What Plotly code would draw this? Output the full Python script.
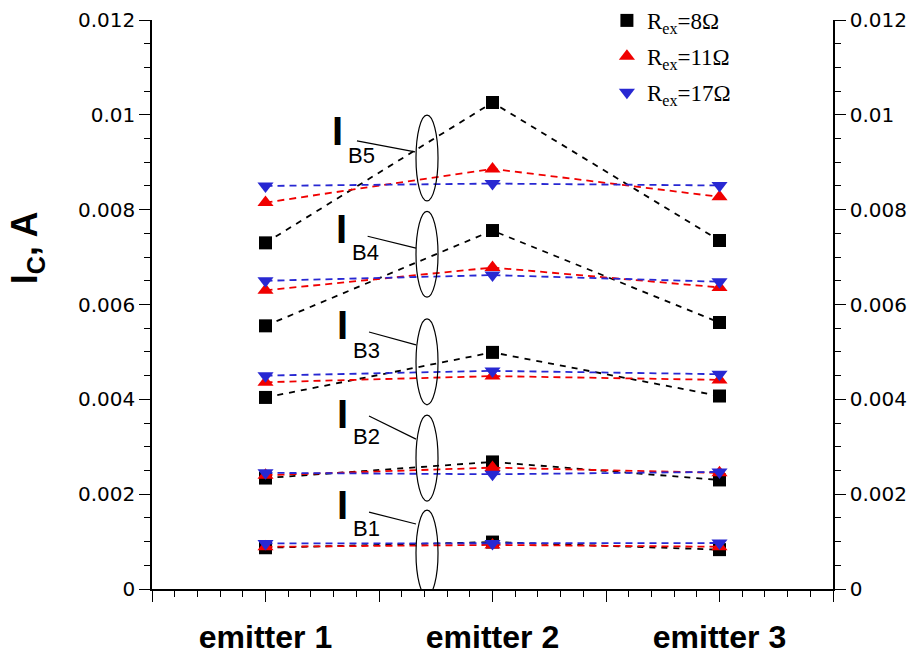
import plotly.graph_objects as go

# ---------------- data ----------------
emitters = [1, 2, 3]
emitter_labels = ["emitter 1", "emitter 2", "emitter 3"]
ib_levels = ["B5", "B4", "B3", "B2", "B1"]

# collector current I_C (A) for each base-current level, emitters 1..3
ic_r8 = [
    [0.00730, 0.01026, 0.00735],
    [0.00555, 0.00756, 0.00562],
    [0.00404, 0.00499, 0.00407],
    [0.00234, 0.00268, 0.00230],
    [0.00087, 0.00099, 0.00083],
]
ic_r11 = [
    [0.00815, 0.00886, 0.00827],
    [0.00630, 0.00678, 0.00636],
    [0.00436, 0.00449, 0.00441],
    [0.00240, 0.00256, 0.00245],
    [0.00089, 0.00093, 0.00089],
]
ic_r17 = [
    [0.00850, 0.00855, 0.00851],
    [0.00650, 0.00662, 0.00648],
    [0.00450, 0.00460, 0.00453],
    [0.00245, 0.00242, 0.00247],
    [0.00096, 0.00096, 0.00097],
]
series_names = ["R<sub>ex</sub>=8Ω", "R<sub>ex</sub>=11Ω", "R<sub>ex</sub>=17Ω"]

y_tickvals = [0, 0.002, 0.004, 0.006, 0.008, 0.01, 0.012]
y_ticktext = ["0", "0.002", "0.004", "0.006", "0.008", "0.01", "0.012"]

# ---------------- styles / positions ----------------
colors = ["black", "rgb(240,0,0)", "rgb(40,40,210)"]
symbols = ["square", "triangle-up", "triangle-down"]
msizes = [13, 14, 14]
dashes = ["6px,6px", "7px,5px", "7px,5px"]

# annotation positions (data coords) for the I_B labels
label_I_xy = [(1.319, 0.00966), (1.335, 0.00759), (1.341, 0.00557), (1.341, 0.00369), (1.341, 0.00177)]
label_sub_xy = [(1.425, 0.00915), (1.440, 0.00709), (1.447, 0.00504), (1.447, 0.00321), (1.447, 0.00127)]
leader = [((1.403, 0.00945), (1.659, 0.00922)),
          ((1.450, 0.00744), (1.663, 0.00719)),
          ((1.456, 0.00542), (1.663, 0.00515)),
          ((1.456, 0.00365), (1.663, 0.00316)),
          ((1.456, 0.00162), (1.663, 0.00137))]
ellipse_cy = [0.00909, 0.00706, 0.00479, 0.00276, 0.00076]
ellipse_x = (1.663, 1.760)
ellipse_h = 0.00181

fig = go.Figure()

for data, name, col, sym, ms, dsh, grp in zip([ic_r8, ic_r11, ic_r17], series_names, colors,
                                              symbols, msizes, dashes, ["a", "b", "c"]):
    xs, ys = [], []
    for level in data:
        xs += emitters + [None]
        ys += level + [None]
    fig.add_trace(go.Scatter(
        x=xs, y=ys, mode="lines+markers", showlegend=False, connectgaps=False,
        line=dict(color=col, width=1.8, dash=dsh),
        marker=dict(symbol=sym, size=ms, color=col, line=dict(width=0)),
        legendgroup=grp,
    ))
    fig.add_trace(go.Scatter(
        x=[None], y=[None], mode="markers", name=name, legendgroup=grp,
        marker=dict(symbol=sym, size=ms, color=col, line=dict(width=0)),
    ))

# dummy trace for right axis
fig.add_trace(go.Scatter(x=[None], y=[None], yaxis="y2", showlegend=False))

shapes = []
annotations = []
for i, lvl in enumerate(ib_levels):
    cy = ellipse_cy[i]
    shapes.append(dict(type="circle", xref="x", yref="y", x0=ellipse_x[0], x1=ellipse_x[1],
                       y0=cy - ellipse_h / 2, y1=cy + ellipse_h / 2,
                       line=dict(color="black", width=1.2)))
    (x0, y0), (x1, y1) = leader[i]
    shapes.append(dict(type="line", xref="x", yref="y", x0=x0, y0=y0, x1=x1, y1=y1,
                       line=dict(color="black", width=1.2)))
    annotations.append(dict(x=label_I_xy[i][0], y=label_I_xy[i][1], xref="x", yref="y",
                            text="<b>I</b>", showarrow=False,
                            font=dict(family="Liberation Sans, Arial", size=40, color="black")))
    annotations.append(dict(x=label_sub_xy[i][0], y=label_sub_xy[i][1], xref="x", yref="y",
                            text=lvl, showarrow=False,
                            font=dict(family="Liberation Sans, Arial", size=22, color="black")))

annotations.append(dict(x=-0.184, y=0.60, xref="paper", yref="paper", textangle=-90,
                        xanchor="center", yanchor="middle",
                        text="<b>I<sub>C</sub>, A</b>", showarrow=False,
                        font=dict(family="Liberation Sans, Arial", size=36, color="black")))

tickfont = dict(family="DejaVu Sans, Arial", size=20, color="black")

fig.update_layout(
    width=915, height=656,
    margin=dict(l=152, r=82, t=20, b=67, autoexpand=False),
    paper_bgcolor="white", plot_bgcolor="white",
    showlegend=True,
    legend=dict(x=0.668, y=1.037, xanchor="left", yanchor="top", bgcolor="rgba(0,0,0,0)",
                font=dict(family="Liberation Serif, Times New Roman", size=23, color="black"),
                tracegroupgap=3, itemwidth=30),
    xaxis=dict(range=[0.5, 3.5], tickmode="array",
               tickvals=[0.5, 1, 1.5, 2, 2.5, 3, 3.5],
               ticktext=["", "<b>%s</b>" % emitter_labels[0], "", "<b>%s</b>" % emitter_labels[1],
                         "", "<b>%s</b>" % emitter_labels[2], ""],
               ticks="outside", ticklen=11, tickwidth=1.3, tickcolor="black",
               showline=True, linecolor="black", linewidth=1.5, showgrid=False, zeroline=False,
               minor=dict(dtick=0.1, tick0=0.5, ticks="outside", ticklen=6, tickwidth=1.1,
                          tickcolor="black", showgrid=False),
               tickfont=dict(family="Liberation Sans, Arial", size=32, color="black"),
               ticklabelstandoff=8, automargin=False),
    yaxis=dict(range=[0, 0.012], tickmode="array", tickvals=y_tickvals, ticktext=y_ticktext,
               ticks="outside", ticklen=11, tickwidth=1.3, tickcolor="black",
               showline=True, linecolor="black", linewidth=1.5, showgrid=False, zeroline=False,
               minor=dict(dtick=0.0005, tick0=0, ticks="outside", ticklen=6, tickwidth=1.1,
                          tickcolor="black", showgrid=False),
               tickfont=tickfont, automargin=False),
    yaxis2=dict(range=[0, 0.012], overlaying="y", side="right", tickmode="array",
                tickvals=y_tickvals, ticktext=y_ticktext,
                ticks="outside", ticklen=11, tickwidth=1.3, tickcolor="black",
                showline=True, linecolor="black", linewidth=1.5, showgrid=False, zeroline=False,
                minor=dict(dtick=0.0005, tick0=0, ticks="outside", ticklen=6, tickwidth=1.1,
                           tickcolor="black", showgrid=False),
                tickfont=tickfont, automargin=False),
    shapes=shapes,
    annotations=annotations,
)

fig.write_html("out.html")
